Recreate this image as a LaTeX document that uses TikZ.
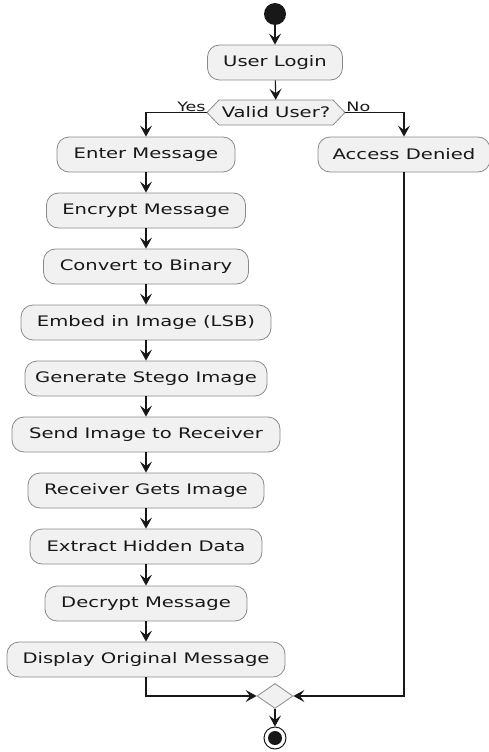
\documentclass[tikz,border=0pt]{standalone}
\usepackage{fontspec}
\setmainfont{DejaVu Sans}[FakeStretch=1.35]
\usetikzlibrary{arrows.meta,shapes.geometric}
\definecolor{boxfill}{HTML}{F1F1F1}
\definecolor{boxline}{HTML}{8A8A8A}
\definecolor{ink}{HTML}{181818}
\begin{document}
\begin{tikzpicture}[x=1pt,y=-1pt,
  act/.style={draw=boxline, fill=boxfill, rounded corners=12pt, minimum height=35pt, inner sep=0pt, font=\fontsize{14.5}{16}\selectfont, text=ink, line width=0.8pt},
  flow/.style={draw=ink, line width=1.1pt, -{Stealth[length=11pt,width=12pt,inset=4.5pt]}},
  lbl/.style={font=\fontsize{13}{14}\selectfont, text=ink, inner sep=1pt}]
\useasboundingbox (0,0) rectangle (489,752);
\node[circle, fill=ink, minimum size=22pt, inner sep=0pt] (start) at (275,14) {};
\node[act, minimum width=135pt] (login) at (275,62.5) {User Login};
\coordinate (vc) at (276,112.5);
\fill[boxfill, draw=boxline, line width=0.8pt] ([xshift=-69pt]vc) -- ([xshift=-57pt,yshift=-12.5pt]vc) -- ([xshift=57pt,yshift=-12.5pt]vc) -- ([xshift=69pt]vc) -- ([xshift=57pt,yshift=12.5pt]vc) -- ([xshift=-57pt,yshift=12.5pt]vc) -- cycle;
\node[minimum width=138pt, minimum height=25pt, inner sep=0pt, font=\fontsize{14.5}{16}\selectfont, text=ink] (valid) at (vc) {Valid User?};
\node[act, minimum width=178pt] (enter) at (146,154.5) {Enter Message};
\node[act, minimum width=172pt] (denied) at (404,154.5) {Access Denied};
\node[act, minimum width=199pt] (encrypt) at (146,210.5) {Encrypt Message};
\node[act, minimum width=205pt] (convert) at (146,266.5) {Convert to Binary};
\node[act, minimum width=250pt] (embed) at (146,322.5) {Embed in Image (LSB)};
\node[act, minimum width=242pt] (gen) at (146,378.5) {Generate Stego Image};
\node[act, minimum width=268pt] (send) at (146,434.5) {Send Image to Receiver};
\node[act, minimum width=236pt] (recv) at (146,490.5) {Receiver Gets Image};
\node[act, minimum width=232pt] (extract) at (146,546.5) {Extract Hidden Data};
\node[act, minimum width=202pt] (decrypt) at (146,603.5) {Decrypt Message};
\node[act, minimum width=278pt] (display) at (146,659.5) {Display Original Message};
\node[diamond, draw=boxline, fill=boxfill, minimum width=36pt, minimum height=25pt, inner sep=0pt, line width=0.8pt] (merge) at (275,696) {};
\node[circle, draw=ink, line width=1pt, minimum size=22pt, inner sep=0pt] (end) at (275,738) {};
\node[circle, fill=ink, minimum size=14pt, inner sep=0pt] (endin) at (end.center) {};
\draw[flow] (start) -- (login);
\draw[flow] (login) -- (valid);
\draw[flow] (valid.west) -| (enter.north);
\draw[flow] (valid.east) -| (denied.north);
\node[lbl, anchor=south east] (yes) at (valid.west) {Yes};
\node[lbl, anchor=south west] (no) at (valid.east) {No};
\draw[flow] (enter) -- (encrypt);
\draw[flow] (encrypt) -- (convert);
\draw[flow] (convert) -- (embed);
\draw[flow] (embed) -- (gen);
\draw[flow] (gen) -- (send);
\draw[flow] (send) -- (recv);
\draw[flow] (recv) -- (extract);
\draw[flow] (extract) -- (decrypt);
\draw[flow] (decrypt) -- (display);
\draw[flow] (display.south) |- (merge.west);
\draw[flow] (denied.south) |- (merge.east);
\draw[flow] (merge) -- (end);
\end{tikzpicture}
\end{document}
